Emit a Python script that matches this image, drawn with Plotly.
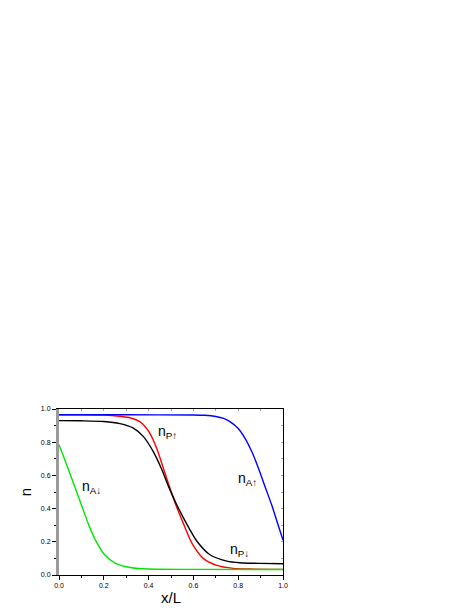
import plotly.graph_objects as go

# ---- data ----
x_red = [0.0, 0.1, 0.2, 0.27, 0.32, 0.362, 0.385, 0.406, 0.436, 0.466, 0.503, 0.518, 0.555, 0.592, 0.644, 0.704, 0.778, 0.85, 1.0]
y_red = [0.965, 0.965, 0.963, 0.956, 0.946, 0.922, 0.893, 0.853, 0.763, 0.643, 0.492, 0.435, 0.311, 0.195, 0.100, 0.058, 0.040, 0.036, 0.034]

x_black = [0.0, 0.1, 0.2, 0.272, 0.332, 0.376, 0.421, 0.458, 0.488, 0.525, 0.570, 0.615, 0.674, 0.749, 0.808, 0.9, 1.0]
y_black = [0.930, 0.929, 0.925, 0.912, 0.885, 0.835, 0.743, 0.638, 0.537, 0.425, 0.308, 0.205, 0.122, 0.084, 0.074, 0.070, 0.068]

x_blue = [0.0, 0.3, 0.6, 0.65, 0.7, 0.735, 0.763, 0.8, 0.83, 0.86, 0.89, 0.92, 0.95, 0.975, 1.0]
y_blue = [0.965, 0.965, 0.964, 0.962, 0.955, 0.943, 0.924, 0.883, 0.825, 0.745, 0.645, 0.532, 0.42, 0.315, 0.21]

x_green = [0.0, 0.02, 0.042, 0.071, 0.101, 0.131, 0.161, 0.205, 0.25, 0.324, 0.4, 0.6, 1.0]
y_green = [0.785, 0.715, 0.635, 0.530, 0.418, 0.308, 0.215, 0.120, 0.072, 0.044, 0.036, 0.034, 0.033]

labels = ["n<sub>P↑</sub>", "n<sub>A↑</sub>", "n<sub>A↓</sub>", "n<sub>P↓</sub>"]
label_x = [0.435, 0.79, 0.095, 0.755]
label_y = [0.86, 0.58, 0.53, 0.15]

x_ticks = [0.0, 0.2, 0.4, 0.6, 0.8, 1.0]
x_ticklabels = ["0.0", "0.2", "0.4", "0.6", "0.8", "1.0"]
y_ticks = [0.0, 0.2, 0.4, 0.6, 0.8, 1.0]
y_ticklabels = ["0.0", "0.2", "0.4", "0.6", "0.8", "1.0"]

FONT = "Liberation Sans, Arial, sans-serif"

fig = go.Figure()
series = [
    (x_red, y_red, "#ff0000"),
    (x_black, y_black, "#000000"),
    (x_blue, y_blue, "#0000ff"),
    (x_green, y_green, "#00e600"),
]
for xs, ys, c in series:
    fig.add_trace(go.Scatter(x=xs, y=ys, mode="lines",
                             line=dict(color=c, width=1.4, shape="spline", smoothing=0.7),
                             showlegend=False, hoverinfo="skip"))

# invisible trace for mirrored (top/right) axes
fig.add_trace(go.Scatter(x=[0, 1], y=[0, 1], mode="markers", marker=dict(opacity=0),
                         xaxis="x2", yaxis="y2", showlegend=False, hoverinfo="skip"))

for t, xx, yy in zip(labels, label_x, label_y):
    fig.add_annotation(x=xx, y=yy, text=t, showarrow=False, xanchor="left", yanchor="middle",
                       font=dict(family=FONT, size=14, color="black"))

# page body adds an 8px offset, so the figure is sized 8px smaller each way
fig.update_layout(
    width=466, height=606,
    margin=dict(l=51, r=191, t=401, b=39, autoexpand=False),
    paper_bgcolor="white", plot_bgcolor="white",
    xaxis=dict(range=[0, 1], tickvals=x_ticks, ticktext=x_ticklabels, ticks="outside", automargin=False,
               ticklen=4, tickwidth=1, tickcolor="black", showgrid=False, zeroline=False,
               showline=True, linecolor="black", linewidth=1,
               tickfont=dict(family=FONT, size=7, color="black"),
               minor=dict(tickvals=[0.1, 0.3, 0.5, 0.7, 0.9], ticks="outside", ticklen=2, tickcolor="black"),
               title=dict(text="x/L", font=dict(family=FONT, size=15, color="black"), standoff=4)),
    yaxis=dict(range=[0, 1], tickvals=y_ticks, ticktext=y_ticklabels, ticks="outside", automargin=False,
               ticklen=4, tickwidth=1, tickcolor="black", showgrid=False, zeroline=False,
               showline=True, linecolor="#9a9a9a", linewidth=3,
               tickfont=dict(family=FONT, size=7, color="black"),
               minor=dict(tickvals=[0.1, 0.3, 0.5, 0.7, 0.9], ticks="outside", ticklen=2, tickcolor="black"),
               title=dict(text="n", font=dict(family=FONT, size=15, color="black"), standoff=6)),
    xaxis2=dict(range=[0, 1], overlaying="x", side="top", tickvals=[0.1, 0.2, 0.3, 0.4, 0.5, 0.6, 0.7, 0.8, 0.9],
                ticks="inside", ticklen=2, tickcolor="#aaaaaa", showticklabels=False, showgrid=False,
                zeroline=False, showline=True, linecolor="black", linewidth=1, automargin=False),
    yaxis2=dict(range=[0, 1], overlaying="y", side="right", tickvals=[0.1, 0.2, 0.3, 0.4, 0.5, 0.6, 0.7, 0.8, 0.9],
                ticks="inside", ticklen=2, tickcolor="#aaaaaa", showticklabels=False, showgrid=False,
                zeroline=False, showline=True, linecolor="black", linewidth=1, automargin=False),
)

fig.write_html("out.html")
